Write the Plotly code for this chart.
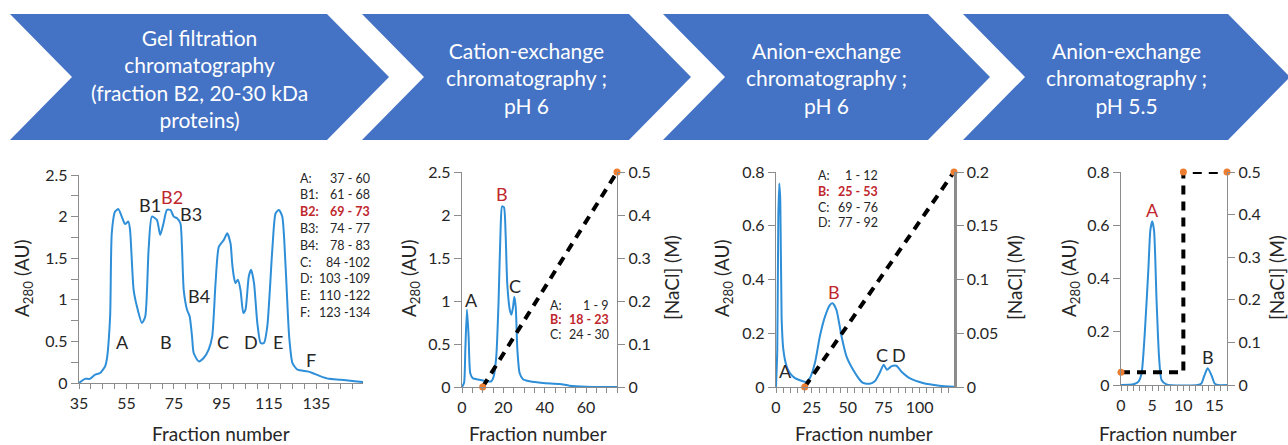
import plotly.graph_objects as go

# ---------------- data ----------------
gel_fraction = [35, 37.5, 39.6, 41.8, 43.9, 46, 46.7, 48.1, 48.8, 50.2, 51.6, 53, 54.4, 55.8, 56.5, 58, 59.4,
                61.5, 62.9, 64.3, 65.7, 67.8, 69.2, 70.6, 72, 73.5, 74.9, 76.3, 77.7, 78.4, 79.1, 80.5, 81.6,
                82.6, 83.3, 85.4, 87.5, 89.6, 91.1, 92.5, 93.9, 96, 97.4, 98.8, 99.5, 100.2, 100.9, 101.9, 103,
                104.2, 105.1, 106.5, 107.5, 108.7, 110.1, 111.5, 112.9, 114.3, 116.4, 117.8, 119.2, 120.6, 122,
                123.5, 124.9, 127, 131.2, 133.3, 136.8, 140.4, 145.3, 155]
gel_a280 = [0, 0.05, 0.05, 0.1, 0.12, 0.2, 0.28, 0.8, 1.8, 2.06, 2.09, 2.0, 1.91, 1.94, 1.84, 1.12, 0.92,
            0.72, 0.8, 1.6, 2.0, 1.96, 1.78, 1.92, 2.08, 2.08, 2.0, 1.98, 1.92, 1.6, 1.12, 0.88, 0.8,
            0.56, 0.36, 0.26, 0.3, 0.4, 0.56, 1.2, 1.64, 1.72, 1.8, 1.68, 1.44, 1.28, 1.2, 1.24, 1.12,
            0.84, 0.88, 1.28, 1.36, 1.2, 0.72, 0.48, 0.48, 0.68, 1.6, 2.04, 2.08, 2.0, 1.4,
            0.56, 0.24, 0.16, 0.14, 0.12, 0.08, 0.05, 0.04, 0.01]

cat_fraction = [0, 1, 1.6, 2.4, 3.2, 4, 5.3, 8.5, 11.8, 14.2, 15.3, 16.6, 17.7, 18.7, 19.4, 20.3, 21.1,
                21.9, 23.1, 23.9, 24.7, 25.3, 26, 26.8, 27.9, 29.5, 32.7, 39.2, 47.3, 52, 60, 75]
cat_a280 = [0, 0.05, 0.43, 0.9, 0.59, 0.16, 0.1, 0.085, 0.066, 0.066, 0.12, 0.36, 1.0, 1.86, 2.1, 2.09, 1.78,
            1.2, 0.9, 0.84, 0.93, 1.05, 0.93, 0.43, 0.16, 0.09, 0.066, 0.046, 0.035, 0.015, 0.004, 0]
cat_nacl_fraction = [10, 75]
cat_nacl = [0, 0.5]

an6_fraction = [0, 0.9, 1.6, 2.3, 3, 3.9, 5.1, 7.4, 9.7, 13.2, 16.7, 20.8, 23.6, 27.1, 30.6, 34, 37.5, 39.4,
                42.1, 45.6, 49.1, 53.7, 58.3, 60.6, 65.3, 68.8, 72.2, 75, 77.3, 80.3, 83.8, 87.3, 93.1,
                102.3, 113.9, 124]
an6_a280 = [0, 0.14, 0.63, 0.757, 0.69, 0.26, 0.14, 0.077, 0.052, 0.033, 0.025, 0.019, 0.033, 0.089, 0.19,
            0.26, 0.305, 0.312, 0.287, 0.19, 0.114, 0.064, 0.027, 0.015, 0.012, 0.021, 0.052, 0.083, 0.064,
            0.077, 0.079, 0.058, 0.033, 0.015, 0.005, 0.001]
an6_nacl_fraction = [20, 124]
an6_nacl = [0, 0.2]

an55_fraction = [0, 2, 2.8, 3.3, 3.8, 4.4, 4.7, 5, 5.3, 5.7, 6.1, 6.5, 7.3, 12.3, 12.9, 13.3, 13.9, 14.6,
                 15, 15.5, 17]
an55_a280 = [0, 0.0025, 0.0125, 0.044, 0.19, 0.44, 0.58, 0.615, 0.58, 0.32, 0.106, 0.019, 0.0025, 0, 0.006,
             0.031, 0.0625, 0.031, 0.006, 0, 0]
an55_nacl_fraction = [0, 10, 10, 17]
an55_nacl = [0.03, 0.03, 0.5, 0.5]
an55_marker_idx = [0, 2, 3]

# peak labels: (text, x, y, red?)
gel_peaks = [("A", 53.5, 0.49, False), ("B", 71.6, 0.49, False), ("C", 95.6, 0.49, False),
             ("D", 107.3, 0.49, False), ("E", 118.9, 0.49, False), ("F", 132.6, 0.28, False),
             ("B1", 65, 2.14, False), ("B2", 74.2, 2.24, True), ("B3", 82.3, 2.03, False),
             ("B4", 85.4, 1.05, False)]
cat_peaks = [("A", 4.5, 1.01, False), ("B", 19.5, 2.25, True), ("C", 25.8, 1.17, False)]
an6_peaks = [("A", 6.3, 0.058, False), ("B", 40.3, 0.355, True), ("C", 73.8, 0.12, False),
             ("D", 85.6, 0.12, False)]
an55_peaks = [("A", 5.05, 0.656, True), ("B", 13.9, 0.106, False)]

gel_range_labels = ["A:", "B1:", "B2:", "B3:", "B4:", "C:", "D:", "E:", "F:"]
gel_range_values = ["37 - 60", "61 - 68", "69 - 73", "74 - 77", "78 - 83", "84 -102", "103 -109",
                    "110 -122", "123 -134"]
gel_selected = "B2:"
cat_range_labels = ["A:", "B:", "C:"]
cat_range_values = ["1 - 9", "18 - 23", "24 - 30"]
cat_selected = "B:"
an6_range_labels = ["A:", "B:", "C:", "D:"]
an6_range_values = ["1 - 12", "25 - 53", "69 - 76", "77 - 92"]
an6_selected = "B:"

step_titles = ["Gel filtration<br>chromatography<br>(fraction B2, 20-30 kDa<br>proteins)",
               "Cation-exchange<br>chromatography ;<br>pH 6",
               "Anion-exchange<br>chromatography ;<br>pH 6",
               "Anion-exchange<br>chromatography ;<br>pH 5.5"]

# ---------------- styling / layout helpers ----------------
W, H = 1288, 445
FONT = "Lato, Carlito, Calibri, sans-serif"
BLUE = "#2E8FD8"
RED = "#C0272D"
ORANGE = "#ED7D31"
AXC = "#8C8C8C"
TXT = "#262626"
CHEV = "#4472C4"


def fx(p):
    return p / W


def fy(p):
    return 1 - p / H


fig = go.Figure()

for xs, ys, xa, ya in [(gel_fraction, gel_a280, "x", "y"), (cat_fraction, cat_a280, "x2", "y2"),
                       (an6_fraction, an6_a280, "x3", "y3"), (an55_fraction, an55_a280, "x4", "y4")]:
    fig.add_trace(go.Scatter(x=xs, y=ys, mode="lines", xaxis=xa, yaxis=ya,
                             line=dict(color=BLUE, width=2, shape="spline", smoothing=0.6)))

DASH = "9px,7px"
for xs, ys, xa, ya, idx in [(cat_nacl_fraction, cat_nacl, "x2", "y5", [0, 1]),
                            (an6_nacl_fraction, an6_nacl, "x3", "y6", [0, 1]),
                            (an55_nacl_fraction, an55_nacl, "x4", "y7", an55_marker_idx)]:
    fig.add_trace(go.Scatter(x=xs, y=ys, mode="lines", xaxis=xa, yaxis=ya, cliponaxis=False,
                             line=dict(color="black", width=4, dash=DASH)))
    fig.add_trace(go.Scatter(x=[xs[i] for i in idx], y=[ys[i] for i in idx], mode="markers",
                             xaxis=xa, yaxis=ya, cliponaxis=False,
                             marker=dict(color=ORANGE, size=7)))

tickfont = dict(family=FONT, size=16, color=TXT)


def xax(dom, rng, dtick, tick0, minor, anchor):
    return dict(domain=[fx(dom[0]), fx(dom[1])], range=rng, dtick=dtick, tick0=tick0, anchor=anchor,
                showline=True, linecolor=AXC, linewidth=1.3, ticks="outside", ticklen=5,
                tickcolor=AXC, tickfont=tickfont, showgrid=False, zeroline=False, automargin=False,
                minor=dict(dtick=minor, tick0=tick0, ticks="outside", ticklen=5, tickcolor=AXC),
                fixedrange=True)


def yax(dom, rng, dtick, anchor, minor=None, side="left", overlaying=None, lw=1.3):
    d = dict(domain=[fy(dom[1]), fy(dom[0])], range=rng, dtick=dtick, tick0=0, anchor=anchor,
             side=side, showline=True, linecolor=AXC, linewidth=lw, ticks="outside", ticklen=7,
             tickcolor=AXC, tickfont=tickfont, showgrid=False, zeroline=False, fixedrange=True,
             automargin=False)
    if minor:
        d["minor"] = dict(dtick=minor, tick0=0, ticks="outside", ticklen=7, tickcolor=AXC)
    if overlaying:
        d["overlaying"] = overlaying
    return d


fig.update_layout(
    width=W, height=H, margin=dict(l=0, r=0, t=0, b=0, pad=0, autoexpand=False),
    paper_bgcolor="white", plot_bgcolor="white", showlegend=False, hovermode=False,
    font=dict(family=FONT, color=TXT),
    xaxis=xax((79, 363), [35, 154.6], 20, 35, 5, "y"),
    yaxis=yax((175, 383), [0, 2.5], 0.5, "x", minor=0.25),
    xaxis2=xax((462, 617), [0, 75], 20, 0, 5, "y2"),
    yaxis2=yax((172, 387), [0, 2.5], 0.5, "x2"),
    yaxis5=yax((172, 387), [0, 0.5], 0.1, "x2", side="right", overlaying="y2"),
    xaxis3=xax((776, 954), [0, 124], 25, 0, 5, "y3"),
    yaxis3=yax((172, 387), [0, 0.8], 0.2, "x3"),
    yaxis6=yax((172, 387), [0, 0.2], 0.05, "x3", side="right", overlaying="y3", lw=2.5),
    xaxis4=xax((1121, 1227), [0, 17], 5, 0, 1, "y4"),
    yaxis4=yax((172, 385), [0, 0.8], 0.2, "x4"),
    yaxis7=yax((172, 385), [0, 0.5], 0.1, "x4", side="right", overlaying="y4"),
)

shapes = []
annotations = []

# chevrons
chev_left = [10, 362, 663, 963]
chev_right = [327, 629, 928, 1228]
DEPTH, TOP, BOT = 62, 14, 140
MID = (TOP + BOT) / 2
for l, r, title in zip(chev_left, chev_right, step_titles):
    pts = [(l, TOP), (r, TOP), (r + DEPTH, MID), (r, BOT), (l, BOT), (l + DEPTH, MID)]
    path = "M " + " L ".join(f"{fx(a):.5f},{fy(b):.5f}" for a, b in pts) + " Z"
    shapes.append(dict(type="path", xref="paper", yref="paper", path=path,
                       fillcolor=CHEV, line=dict(width=0), layer="below"))
    annotations.append(dict(xref="paper", yref="paper", x=fx((l + DEPTH + r) / 2), y=fy(MID + 1),
                            text=title, showarrow=False, xanchor="center", yanchor="middle",
                            font=dict(family=FONT, size=21, color="white")))

# peak labels
for peaks, xr, yr in [(gel_peaks, "x", "y"), (cat_peaks, "x2", "y2"), (an6_peaks, "x3", "y3"),
                      (an55_peaks, "x4", "y4")]:
    for t, x, y, red in peaks:
        annotations.append(dict(xref=xr, yref=yr, x=x, y=y, text=t, showarrow=False,
                                xanchor="center", yanchor="middle",
                                font=dict(family=FONT, size=18, color=RED if red else TXT)))

# fraction range lists
for labels, values, sel, left, right, top, step, fs in [
        (gel_range_labels, gel_range_values, gel_selected, 298, 372, 178, 16.8, 12.5),
        (cat_range_labels, cat_range_values, cat_selected, 548, 611, 305, 14.5, 12.5),
        (an6_range_labels, an6_range_values, an6_selected, 816, 880, 176, 15.6, 12.5)]:
    for i, (lab, val) in enumerate(zip(labels, values)):
        is_sel = lab == sel
        col = RED if is_sel else TXT
        ltxt = f"<b>{lab}</b>" if is_sel else lab
        vtxt = f"<b>{val}</b>" if is_sel else val
        yy = fy(top + i * step)
        annotations.append(dict(xref="paper", yref="paper", x=fx(left), y=yy, text=ltxt,
                                showarrow=False, xanchor="left", yanchor="middle",
                                font=dict(family=FONT, size=fs, color=col)))
        annotations.append(dict(xref="paper", yref="paper", x=fx(right), y=yy, text=vtxt,
                                showarrow=False, xanchor="right", yanchor="middle",
                                font=dict(family=FONT, size=fs, color=col)))

# axis titles
for cx in [221, 538, 864, 1168]:
    annotations.append(dict(xref="paper", yref="paper", x=fx(cx), y=fy(433), text="Fraction number",
                            showarrow=False, xanchor="center", yanchor="middle",
                            font=dict(family=FONT, size=19, color=TXT)))
for cx in [23, 410, 723, 1070]:
    annotations.append(dict(xref="paper", yref="paper", x=fx(cx), y=fy(278),
                            text="A<sub>280</sub> (AU)", showarrow=False, textangle=-90,
                            xanchor="center", yanchor="middle",
                            font=dict(family=FONT, size=19, color=TXT)))
for cx in [671, 1014, 1276]:
    annotations.append(dict(xref="paper", yref="paper", x=fx(cx), y=fy(278),
                            text="[NaCl] (M)", showarrow=False, textangle=-90,
                            xanchor="center", yanchor="middle",
                            font=dict(family=FONT, size=19, color=TXT)))

fig.update_layout(shapes=shapes, annotations=annotations)
fig.write_html("out.html", config={"displayModeBar": False, "staticPlot": True},
               post_script="document.body.style.margin='0';")
